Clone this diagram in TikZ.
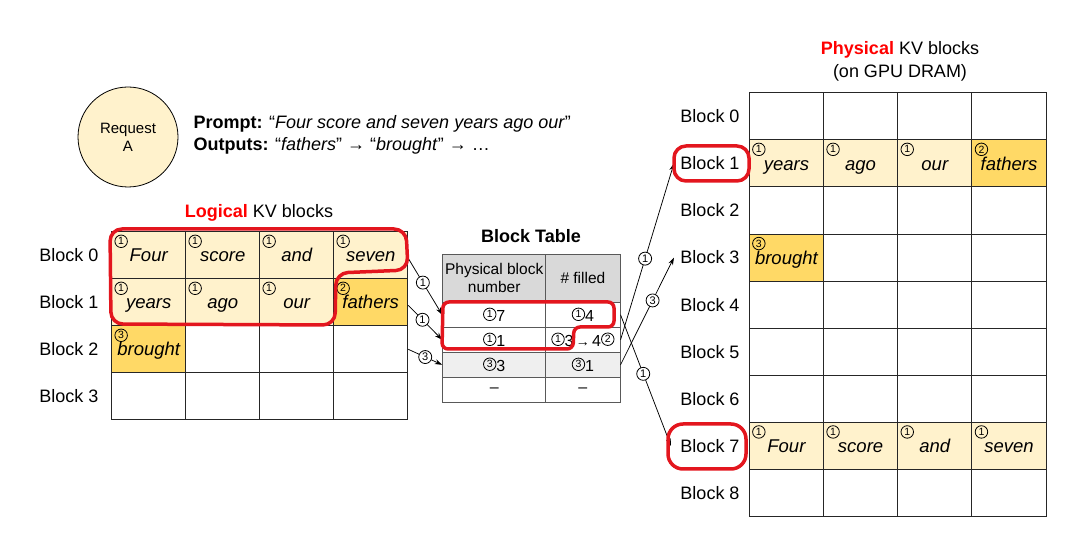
\documentclass[tikz,border=0pt]{standalone}
\usepackage{fontspec}
\setmainfont{Liberation Sans}
\usepackage{xcolor}
\usepackage{tikz}
\usetikzlibrary{arrows.meta}

\definecolor{lite}{HTML}{FFF2CC}
\definecolor{deep}{HTML}{FFD966}
\definecolor{redpen}{HTML}{E3161E}
\definecolor{hdrgray}{HTML}{D9D9D9}
\definecolor{rowgray}{HTML}{EFEFEF}

% small circled digit, set inline
\newcommand{\cnum}[1]{\raisebox{4pt}{\tikz[baseline=(n.base)]\node[circle,draw,line width=0.8pt,inner sep=0pt,minimum size=12.5pt,font=\fontsize{10.5}{10.5}\selectfont] (n) {#1};}}

\tikzset{
	cell/.style={draw=black!85,line width=0.9pt,minimum width=74.2pt,minimum height=47.1pt,inner sep=0pt,text height=16pt,text depth=2.6pt,font=\fontsize{18.5}{20}\selectfont\itshape},
	cmark/.style={circle,draw,line width=0.8pt,inner sep=0pt,minimum size=12.5pt,font=\fontsize{10.5}{10.5}\selectfont},
	tag/.style={circle,draw,fill=white,line width=0.8pt,inner sep=0pt,minimum size=13pt,font=\fontsize{11}{11}\selectfont},
	blk/.style={font=\fontsize{18}{20}\selectfont},
	tbl/.style={draw=black!65,line width=1pt,minimum height=25pt,inner sep=0pt,font=\fontsize{16}{18}\selectfont},
	redline/.style={draw=redpen,line width=3.5pt,line join=round}
}

\begin{document}
\begin{tikzpicture}[x=1pt,y=-1pt]
		\useasboundingbox (0,0) rectangle (1066,534);

		\node[circle,draw,fill=lite,line width=0.8pt,minimum size=100pt,align=center,font=\fontsize{15}{18}\selectfont] (req) at (128,137) {Request\\A};
		\node[anchor=west,blk] (prompt) at (190,124) {\textbf{Prompt:} “\textit{Four score and seven years ago our}”};
		\node[anchor=west,blk] (outs) at (190,146) {\textbf{Outputs:} “\textit{fathers}” → “\textit{brought}” → …};

		\node[blk] (ltitle) at (259,213) {\textcolor{red}{\bfseries Logical} KV blocks};
		\node[blk] (btitle) at (531,236) {\bfseries Block Table};
		\node[blk] (ptitle) at (900,50) {\textcolor{red}{\bfseries Physical} KV blocks};
		\node[blk] (pgpu) at (900,73) {(on GPU DRAM)};

		% logical blocks
		\foreach \r in {0,...,3} {
			\node[blk] (LB\r) at (69,{255.3+47*\r}) {Block \r};
			\foreach \c in {0,...,3}
				\node[cell] (L\r\c) at ({148.7+74*\c},{255.3+47*\r}) {};
		}
		\foreach \r/\c/\w/\n/\f in {0/0/Four/1/lite,0/1/score/1/lite,0/2/and/1/lite,0/3/seven/1/lite,
			1/0/years/1/lite,1/1/ago/1/lite,1/2/our/1/lite,1/3/fathers/2/deep,2/0/brought/3/deep} {
			\node[cell,fill=\f] (L\r\c) at ({148.7+74*\c},{255.3+47*\r}) {\w};
			\node[cmark] (mL\r\c) at ([xshift=10pt,yshift=-10pt]L\r\c.north west) {\n};
		}

		% physical blocks
		\foreach \r in {0,...,8} {
			\node[blk] (PB\r) at (710,{116.25+47.1*\r}) {Block \r};
			\foreach \c in {0,...,3}
				\node[cell] (P\r\c) at ({786.4+74.2*\c},{116.25+47.1*\r}) {};
		}
		\foreach \r/\c/\w/\n/\f in {1/0/years/1/lite,1/1/ago/1/lite,1/2/our/1/lite,1/3/fathers/2/deep,
			3/0/brought/3/deep,7/0/Four/1/lite,7/1/score/1/lite,7/2/and/1/lite,7/3/seven/1/lite} {
			\node[cell,fill=\f] (P\r\c) at ({786.4+74.2*\c},{116.25+47.1*\r}) {\w};
			\node[cmark] (mP\r\c) at ([xshift=10pt,yshift=-10pt]P\r\c.north west) {\n};
		}

		% block table
		\node[tbl,fill=hdrgray,minimum width=103pt,minimum height=48pt,align=center,font=\fontsize{15.5}{18}\selectfont] (Ta0) at (494.2,278.3) {Physical block\\number};
		\node[tbl,fill=hdrgray,minimum width=74.3pt,minimum height=48pt,font=\fontsize{15.5}{18}\selectfont] (Tb0) at (582.9,278.3) {\# filled};
		\foreach \r/\a/\b/\f in {1/{\cnum{1}7}/{\cnum{1}4}/white,
			2/{\cnum{1}1}/{\cnum{1}3{\fontsize{14}{14}\selectfont\,→\,}4\cnum{2}}/white,
			3/{\cnum{3}3}/{\cnum{3}1}/rowgray,4/–/–/white} {
			\node[tbl,fill=\f,minimum width=103pt] (Ta\r) at (494.2,{289.8+25*\r}) {\a};
			\node[tbl,fill=\f,minimum width=74.3pt] (Tb\r) at (582.9,{289.8+25*\r}) {\b};
		}

		%
		\path[->,>={Stealth[length=7.5pt,width=5pt]},line width=0.75pt]
			([yshift=-3pt]L03.east) edge node[tag,pos=0.43] (g1) {1} (Ta1.west)
			([yshift=-3pt]L13.east) edge node[tag,pos=0.42] (g2) {1} (Ta2.west)
			(L23.east) edge node[tag,pos=0.5] (g3) {3} (Ta3.west)
			(Tb2.east) edge node[tag,pos=0.46] (g4) {1} ([xshift=-3pt]PB1.west)
			(Tb3.east) edge node[tag,pos=0.6] (g5) {3} ([xshift=-3pt]PB3.west)
			(Tb1.east) edge node[tag,pos=0.45] (g6) {1} ([xshift=-6pt]PB7.west);

		% red pen marks
		\draw[redline,rounded corners=12pt] (110,229) -- (406,229) -- (408,270) -- (336,273) -- (335,325) -- (111,324) -- cycle;
		\draw[redline,rounded corners=6pt] (443,302) -- (614,302) -- (614,327) -- (574,327) -- (573,349) -- (442,349) -- cycle;
		\draw[redline,rounded corners=12pt] (674,146) rectangle (749,181);
		\draw[redline,rounded corners=15pt] (668,424) rectangle (746,469);
\end{tikzpicture}
\end{document}
